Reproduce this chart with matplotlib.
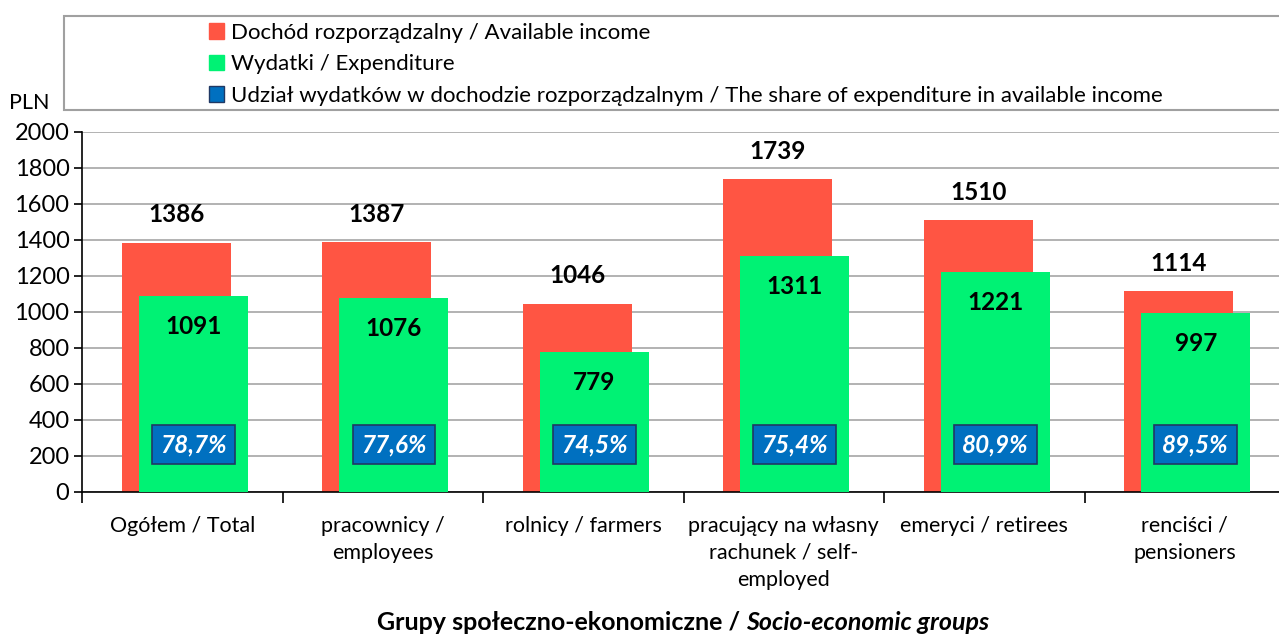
import matplotlib.pyplot as plt
import numpy as np
from matplotlib.patches import Rectangle, Patch

plt.rcParams['font.family'] = ['Lato', 'DejaVu Sans']

categories = [
    'Ogółem / Total',
    'pracownicy /\nemployees',
    'rolnicy / farmers',
    'pracujący na własny\nrachunek / self-\nemployed',
    'emeryci / retirees',
    'renciści /\npensioners',
]
income = [1386, 1387, 1046, 1739, 1510, 1114]
expenditure = [1091, 1076, 779, 1311, 1221, 997]
share = ['78,7%', '77,6%', '74,5%', '75,4%', '80,9%', '89,5%']

legend_labels = [
    'Dochód rozporządzalny / Available income',
    'Wydatki / Expenditure',
    'Udział wydatków w dochodzie rozporządzalnym / The share of expenditure in available income',
]

red = '#FF5543'
green = '#00F274'
blue = '#0070C0'

fig = plt.figure(figsize=(12.79, 6.35), dpi=100)
ax = fig.add_axes([82 / 1279, 1 - 492 / 635, 1203 / 1279, 360 / 635])

x = np.arange(len(categories))
w = 0.545
ax.bar(x - 0.03, income, width=w, color=red, zorder=2)
ax.bar(x + 0.055, expenditure, width=w, color=green, zorder=3)

for i in range(len(categories)):
    ax.annotate(str(income[i]), (x[i] - 0.03, income[i]), xytext=(0, 20),
                textcoords='offset points', ha='center', va='center',
                fontsize=17.5, fontweight='bold', zorder=5)
    ax.annotate(str(expenditure[i]), (x[i] + 0.055, expenditure[i]), xytext=(0, -22),
                textcoords='offset points', ha='center', va='center',
                fontsize=17.5, fontweight='bold', zorder=5)
    ax.text(x[i] + 0.055, 262, share[i], ha='center', va='center', color='white',
            fontsize=17.5, fontweight='bold', fontstyle='italic', zorder=6,
            bbox=dict(boxstyle='square,pad=0.33', facecolor=blue, edgecolor='#203864', linewidth=1.2))

ax.set_xlim(-0.5, 5.5)
ax.set_ylim(0, 2000)
ax.set_yticks(np.arange(0, 2001, 200))
ax.yaxis.grid(True, color='#A6A6A6', linewidth=1.2, zorder=0)
ax.set_axisbelow(True)
ax.tick_params(axis='y', labelsize=17, length=6, width=1.2, pad=3)
ax.set_xticks(x)
ax.set_xticklabels(categories, fontsize=15.5, linespacing=1.45)
ax.set_xticks(np.arange(-0.5, 6.0, 1.0), minor=True)
ax.tick_params(axis='x', which='major', length=0, pad=17)
ax.tick_params(axis='x', which='minor', length=8, width=1.2)
for s in ['top', 'right']:
    ax.spines[s].set_visible(False)
ax.spines['left'].set_linewidth(1.2)
ax.spines['bottom'].set_linewidth(1.2)

fig.text(29 / 1279, 1 - 103 / 635, 'PLN', fontsize=15.5, ha='center', va='center')

# legend box
fig.patches.append(Rectangle((64 / 1279, 1 - 110 / 635), 1.0, 94 / 635, transform=fig.transFigure,
                             facecolor='white', edgecolor='#A0A0A0', linewidth=1.5))
handles = [Patch(facecolor=red, edgecolor=red), Patch(facecolor=green, edgecolor=green),
           Patch(facecolor=blue, edgecolor='#203864')]
fig.legend(handles, legend_labels, loc='upper left', bbox_to_anchor=(200 / 1279, 1 - 14 / 635),
           frameon=False, fontsize=16, handlelength=0.7, handleheight=0.7,
           handletextpad=0.3, labelspacing=0.52, borderaxespad=0)

# x axis title: bold part + bold italic part
renderer = fig.canvas.get_renderer()
t1 = fig.text(0, 1 - 622 / 635, 'Grupy społeczno-ekonomiczne / ', fontsize=18, fontweight='bold',
              ha='left', va='center')
t2 = fig.text(0, 1 - 622 / 635, 'Socio-economic groups', fontsize=18, fontweight='bold',
              fontstyle='italic', ha='left', va='center')
w1 = t1.get_window_extent(renderer).width
w2 = t2.get_window_extent(renderer).width
start = 683 - (w1 + w2) / 2
t1.set_x(start / 1279)
t2.set_x((start + w1) / 1279)

fig.savefig('out.png', dpi=100)
